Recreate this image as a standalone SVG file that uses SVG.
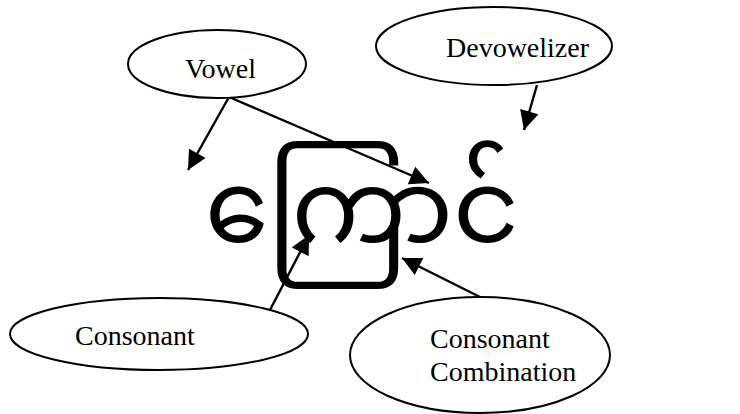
<svg xmlns="http://www.w3.org/2000/svg" width="740" height="414" viewBox="0 0 740 414">
<style>
.node ellipse{fill:#fff;stroke:#000;stroke-width:2}
.lbl{font-family:"Liberation Serif","Times New Roman",serif;font-size:28px;fill:#000}
.conn line{stroke:#000;stroke-width:2.4}
.my{font-family:"Noto Sans Myanmar UI","Noto Sans Myanmar",sans-serif;font-size:100px;fill:#000}
</style>
<defs>
<marker id="ah" viewBox="0 0 10 10" refX="10" refY="5" markerUnits="userSpaceOnUse" markerWidth="20" markerHeight="19" orient="auto">
<path d="M0,0 L10,5 L0,10 z" fill="#000"/>
</marker>
</defs>
<rect width="740" height="414" fill="#fff"/>
<g id="word"><text class="my" transform="translate(205,259) scale(1.02,1.13)" x="0" y="0">ကြောင်</text></g>
<g id="conn" class="conn">
<line x1="229" y1="97" x2="188" y2="170" marker-end="url(#ah)"/>
<line x1="229" y1="97" x2="429" y2="183" marker-end="url(#ah)"/>
<line x1="537" y1="85" x2="524" y2="130" marker-end="url(#ah)"/>
<line x1="270" y1="310" x2="309" y2="235" marker-end="url(#ah)"/>
<line x1="482" y1="298" x2="402" y2="258" marker-end="url(#ah)"/>
</g>
<g id="vowel" class="node"><ellipse cx="217" cy="64" rx="89" ry="34"/><text class="lbl" x="185" y="78">Vowel</text></g>
<g id="devowelizer" class="node"><ellipse cx="494" cy="46" rx="118" ry="39"/><text class="lbl" x="446" y="57">Devowelizer</text></g>
<g id="consonant" class="node"><ellipse cx="159" cy="334" rx="149" ry="36"/><text class="lbl" x="75" y="345">Consonant</text></g>
<g id="combination" class="node"><ellipse cx="480" cy="355" rx="130" ry="58"/><text class="lbl" x="430" y="348">Consonant</text><text class="lbl" x="430" y="381">Combination</text></g>
</svg>
